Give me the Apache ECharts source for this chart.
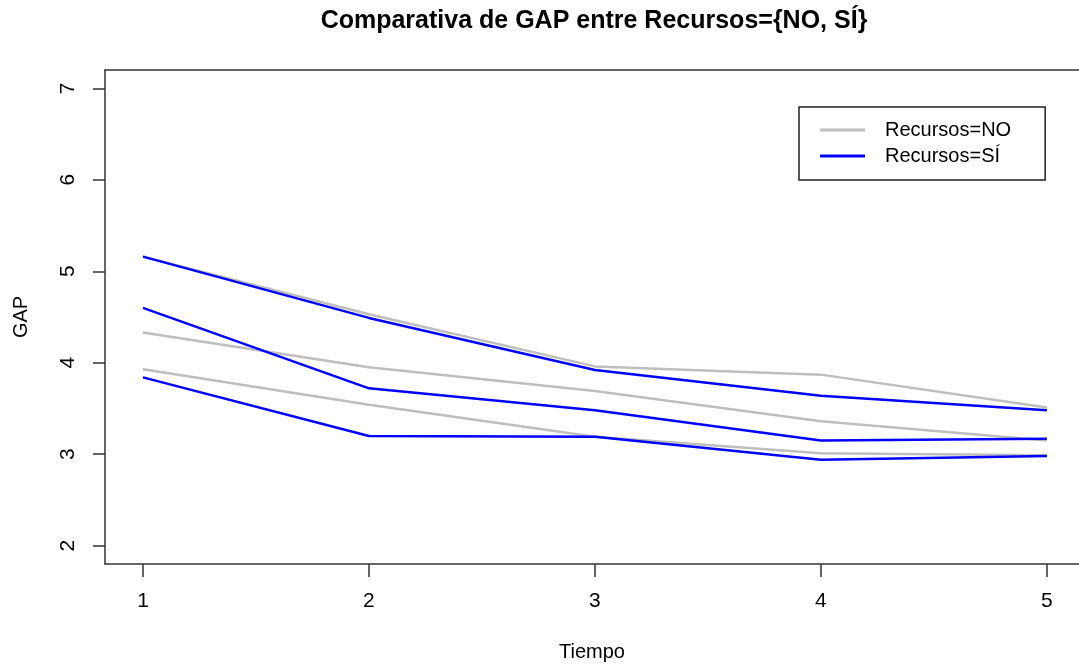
<!DOCTYPE html>
<html>
<head>
<meta charset="utf-8">
<script src="https://cdn.jsdelivr.net/npm/echarts@6/dist/echarts.min.js"></script>
<style>
html,body{margin:0;padding:0;background:#fff;}
#chart{width:1079px;height:668px;}
</style>
</head>
<body>
<div id="chart"></div>
<script>
const tiempo = [1, 2, 3, 4, 5];
const xTicks = [1, 2, 3, 4, 5];
const yTicks = [2, 3, 4, 5, 6, 7];

// Recursos = NO (gris)
const noSuperior = [5.16, 4.53, 3.96, 3.87, 3.51];
const noMedio    = [4.33, 3.95, 3.69, 3.36, 3.15];
const noInferior = [3.93, 3.54, 3.19, 3.01, 2.99];

// Recursos = SÍ (azul)
const siSuperior = [5.16, 4.49, 3.92, 3.64, 3.48];
const siMedio    = [4.60, 3.72, 3.48, 3.15, 3.17];
const siInferior = [3.84, 3.20, 3.19, 2.94, 2.98];

const nameNO = 'Recursos=NO';
const nameSI = 'Recursos=SÍ';
const colorNO = '#bebebe';
const colorSI = '#0000ff';

const FONT = '"Liberation Sans", Arial, sans-serif';

function pairs(vals) { return tiempo.map((t, i) => [t, vals[i]]); }
function lineSeries(name, color, vals) {
  return {
    name: name, type: 'line', data: pairs(vals),
    showSymbol: false, symbol: 'none', silent: true,
    lineStyle: { color: color, width: 2.5 },
    itemStyle: { color: color },
    animation: false
  };
}

const boxLine = { show: true, lineStyle: { color: '#333', width: 1.5 } };

const chart = echarts.init(document.getElementById('chart'), null, { renderer: 'canvas' });
chart.setOption({
  backgroundColor: '#ffffff',
  animation: false,
  title: {
    text: 'Comparativa de GAP entre Recursos={NO, SÍ}',
    left: 594, top: 9, padding: 0, textAlign: 'center',
    textStyle: { fontFamily: FONT, fontSize: 25, fontWeight: 'bold', color: '#000' }
  },
  legend: {
    orient: 'vertical',
    left: 799, top: 107,
    padding: [13, 34, 14, 21],
    borderColor: '#222', borderWidth: 1.5,
    backgroundColor: '#fff',
    itemWidth: 45, itemHeight: 3, itemGap: 6,
    icon: 'rect',
    data: [nameNO, nameSI],
    textStyle: { fontFamily: FONT, fontSize: 20, color: '#000', lineHeight: 20, padding: [0, 0, 0, 15] }
  },
  grid: { left: 105, right: 0, top: 70, bottom: 104, show: false },
  xAxis: [{
    type: 'value', min: 0.832, max: 5.142,
    name: 'Tiempo', nameLocation: 'middle', nameGap: 78,
    nameTextStyle: { fontFamily: FONT, fontSize: 20, color: '#000' },
    axisLine: boxLine,
    splitLine: { show: false },
    axisTick: { show: true, length: 13, inside: false, customValues: xTicks, lineStyle: { color: '#333', width: 1.5 } },
    axisLabel: { customValues: xTicks, margin: 27, fontFamily: FONT, fontSize: 21, color: '#000' }
  }, {
    type: 'value', min: 0.832, max: 5.142, position: 'top',
    axisLine: boxLine,
    splitLine: { show: false }, axisTick: { show: false }, axisLabel: { show: false }
  }],
  yAxis: {
    type: 'value', min: 1.8, max: 7.2,
    name: 'GAP', nameLocation: 'middle', nameGap: 74,
    nameTextStyle: { fontFamily: FONT, fontSize: 20, color: '#000' },
    axisLine: boxLine,
    splitLine: { show: false },
    axisTick: { show: true, length: 12, inside: false, customValues: yTicks, lineStyle: { color: '#333', width: 1.5 } },
    axisLabel: { customValues: yTicks, rotate: 90, margin: 26, fontFamily: FONT, fontSize: 21, color: '#000' }
  },
  series: [
    lineSeries(nameNO, colorNO, noSuperior),
    lineSeries(nameNO, colorNO, noMedio),
    lineSeries(nameNO, colorNO, noInferior),
    lineSeries(nameSI, colorSI, siSuperior),
    lineSeries(nameSI, colorSI, siMedio),
    lineSeries(nameSI, colorSI, siInferior)
  ]
});
</script>
</body>
</html>
